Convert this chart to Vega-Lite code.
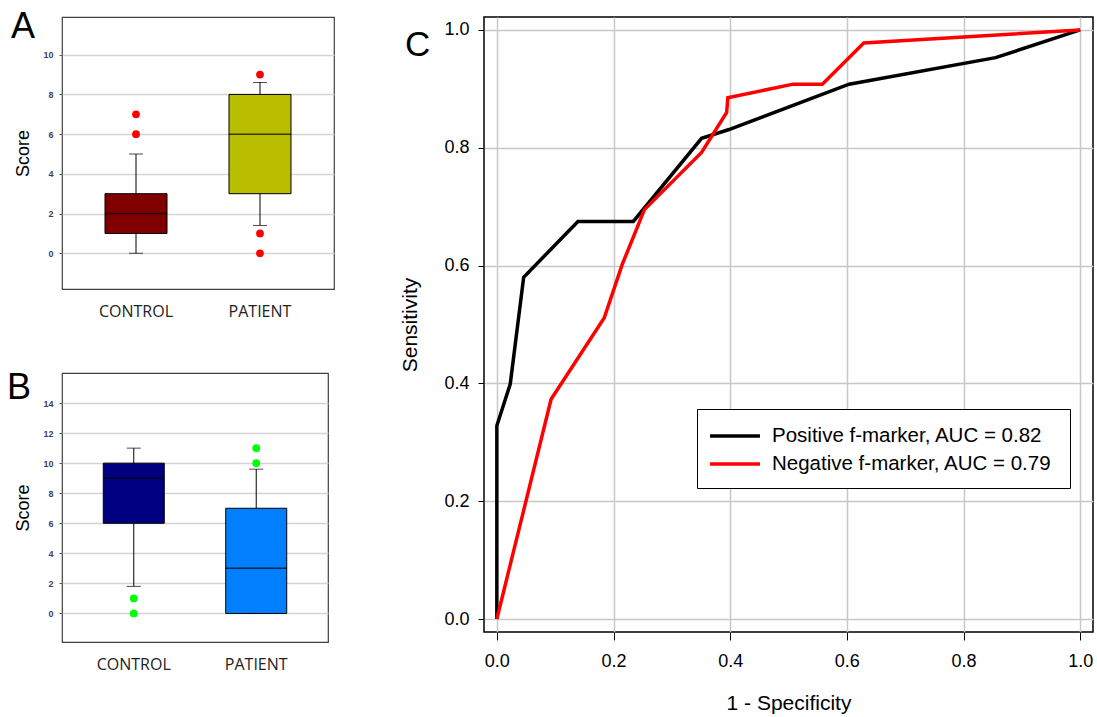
{
  "$schema": "https://vega.github.io/schema/vega-lite/v6.json",
  "background": "white",
  "padding": {"left": 6, "top": 8, "right": 0, "bottom": 0},
  "config": {
    "font": "Liberation Sans",
    "axis": {"labelOverlap": false},
    "title": {"fontWeight": "normal", "color": "black", "font": "Liberation Sans"}
  },
  "datasets": {
    "boxA": [
      {"group": "CONTROL", "q1": 1, "med": 2, "q3": 3, "lo": 0, "hi": 5},
      {"group": "PATIENT", "q1": 3, "med": 6, "q3": 8, "lo": 1.4, "hi": 8.6}
    ],
    "outA": [
      {"group": "CONTROL", "v": 6},
      {"group": "CONTROL", "v": 7},
      {"group": "PATIENT", "v": 9},
      {"group": "PATIENT", "v": 1},
      {"group": "PATIENT", "v": 0}
    ],
    "boxB": [
      {"group": "CONTROL", "q1": 6, "med": 9, "q3": 10, "lo": 1.8, "hi": 11},
      {"group": "PATIENT", "q1": 0, "med": 3, "q3": 7, "lo": 0, "hi": 9.6}
    ],
    "outB": [
      {"group": "CONTROL", "v": 1},
      {"group": "CONTROL", "v": 0},
      {"group": "PATIENT", "v": 10},
      {"group": "PATIENT", "v": 11}
    ],
    "roc": [
      {"marker": "Positive f-marker, AUC = 0.82", "ord": 1, "fpr": 0, "tpr": 0},
      {"marker": "Positive f-marker, AUC = 0.82", "ord": 2, "fpr": 0, "tpr": 0.328},
      {"marker": "Positive f-marker, AUC = 0.82", "ord": 3, "fpr": 0.023, "tpr": 0.399},
      {"marker": "Positive f-marker, AUC = 0.82", "ord": 4, "fpr": 0.046, "tpr": 0.58},
      {"marker": "Positive f-marker, AUC = 0.82", "ord": 5, "fpr": 0.139, "tpr": 0.675},
      {"marker": "Positive f-marker, AUC = 0.82", "ord": 6, "fpr": 0.234, "tpr": 0.675},
      {"marker": "Positive f-marker, AUC = 0.82", "ord": 7, "fpr": 0.351, "tpr": 0.816},
      {"marker": "Positive f-marker, AUC = 0.82", "ord": 8, "fpr": 0.398, "tpr": 0.831},
      {"marker": "Positive f-marker, AUC = 0.82", "ord": 9, "fpr": 0.604, "tpr": 0.908},
      {"marker": "Positive f-marker, AUC = 0.82", "ord": 10, "fpr": 0.855, "tpr": 0.953},
      {"marker": "Positive f-marker, AUC = 0.82", "ord": 11, "fpr": 1, "tpr": 1},
      {"marker": "Negative f-marker, AUC = 0.79", "ord": 1, "fpr": 0, "tpr": 0},
      {"marker": "Negative f-marker, AUC = 0.79", "ord": 2, "fpr": 0.093, "tpr": 0.373},
      {"marker": "Negative f-marker, AUC = 0.79", "ord": 3, "fpr": 0.184, "tpr": 0.511},
      {"marker": "Negative f-marker, AUC = 0.79", "ord": 4, "fpr": 0.215, "tpr": 0.602},
      {"marker": "Negative f-marker, AUC = 0.79", "ord": 5, "fpr": 0.253, "tpr": 0.695},
      {"marker": "Negative f-marker, AUC = 0.79", "ord": 6, "fpr": 0.351, "tpr": 0.792},
      {"marker": "Negative f-marker, AUC = 0.79", "ord": 7, "fpr": 0.394, "tpr": 0.86},
      {"marker": "Negative f-marker, AUC = 0.79", "ord": 8, "fpr": 0.396, "tpr": 0.885},
      {"marker": "Negative f-marker, AUC = 0.79", "ord": 9, "fpr": 0.508, "tpr": 0.908},
      {"marker": "Negative f-marker, AUC = 0.79", "ord": 10, "fpr": 0.558, "tpr": 0.908},
      {"marker": "Negative f-marker, AUC = 0.79", "ord": 11, "fpr": 0.629, "tpr": 0.978},
      {"marker": "Negative f-marker, AUC = 0.79", "ord": 12, "fpr": 1, "tpr": 1}
    ]
  },
  "resolve": {"scale": {"color": "independent", "x": "independent", "y": "independent"}},
  "spacing": 64,
  "hconcat": [
    {
      "spacing": 49,
      "resolve": {"scale": {"color": "independent", "x": "independent", "y": "independent"}},
      "vconcat": [
        {
          "width": 272,
          "height": 272,
          "title": {"text": "A", "anchor": "start", "frame": "group", "orient": "top", "baseline": "top", "offset": -29.4, "dx": -51, "fontSize": 36},
          "view": {"stroke": "#404040", "strokeWidth": 1.2},
          "layer": [
            {
              "data": {"name": "boxA"},
              "mark": {"type": "rule", "color": "black", "strokeWidth": 1},
              "encoding": {
                "x": {"field": "group", "type": "nominal", "sort": ["CONTROL", "PATIENT"], "title": null,
                  "scale": {"paddingInner": 0, "paddingOuter": 0.097},
                  "axis": {"labelAngle": 0, "ticks": false, "domain": false, "labelPadding": 14, "labelFontSize": 16, "labelFont": "Open Sans", "labelColor": "#222222"}},
                "y": {"field": "lo", "type": "quantitative", "title": "Score",
                  "scale": {"domain": [-1.8, 11.9], "nice": false, "zero": false},
                  "axis": {"values": [0, 2, 4, 6, 8, 10], "tickCount": 20, "format": "d", "labelOverlap": false, "grid": true, "gridColor": "#d4d4d4", "gridWidth": 1.5, "domain": false, "ticks": true, "tickSize": 3, "tickColor": "#555555", "labelFontSize": 9, "labelFontWeight": "bold", "labelColor": "#3a3f66", "labelPadding": 6, "titleFontSize": 18, "titleFontWeight": "normal", "titleColor": "black", "titlePadding": 10}},
                "y2": {"field": "hi"}
              }
            },
            {
              "data": {"name": "boxA"},
              "mark": {"type": "tick", "color": "black", "size": 14, "thickness": 1},
              "encoding": {
                "x": {"field": "group", "type": "nominal", "sort": ["CONTROL", "PATIENT"], "title": null},
                "y": {"field": "lo", "type": "quantitative", "title": "Score"}
              }
            },
            {
              "data": {"name": "boxA"},
              "mark": {"type": "tick", "color": "black", "size": 14, "thickness": 1},
              "encoding": {
                "x": {"field": "group", "type": "nominal", "sort": ["CONTROL", "PATIENT"], "title": null},
                "y": {"field": "hi", "type": "quantitative", "title": "Score"}
              }
            },
            {
              "data": {"name": "boxA"},
              "mark": {"type": "bar", "size": 62, "stroke": "black", "strokeWidth": 1},
              "encoding": {
                "x": {"field": "group", "type": "nominal", "sort": ["CONTROL", "PATIENT"], "title": null},
                "y": {"field": "q1", "type": "quantitative", "title": "Score"},
                "y2": {"field": "q3"},
                "fill": {"condition": {"test": "datum.group === 'CONTROL'", "value": "#800000"}, "value": "#b9bd00"}
              }
            },
            {
              "data": {"name": "boxA"},
              "mark": {"type": "tick", "color": "black", "size": 62, "thickness": 1.5},
              "encoding": {
                "x": {"field": "group", "type": "nominal", "sort": ["CONTROL", "PATIENT"], "title": null},
                "y": {"field": "med", "type": "quantitative", "title": "Score"}
              }
            },
            {
              "data": {"name": "outA"},
              "mark": {"type": "point", "filled": true, "size": 60, "color": "#ff0000", "opacity": 1},
              "encoding": {
                "x": {"field": "group", "type": "nominal", "sort": ["CONTROL", "PATIENT"], "title": null},
                "y": {"field": "v", "type": "quantitative", "title": "Score"}
              }
            }
          ]
        },
        {
          "width": 266,
          "height": 269,
          "title": {"text": "B", "anchor": "start", "frame": "group", "orient": "top", "baseline": "top", "offset": -34.4, "dx": -55, "fontSize": 36},
          "view": {"stroke": "#404040", "strokeWidth": 1.2},
          "layer": [
            {
              "data": {"name": "boxB"},
              "mark": {"type": "rule", "color": "black", "strokeWidth": 1},
              "encoding": {
                "x": {"field": "group", "type": "nominal", "sort": ["CONTROL", "PATIENT"], "title": null,
                  "scale": {"paddingInner": 0, "paddingOuter": 0.086},
                  "axis": {"labelAngle": 0, "ticks": false, "domain": false, "labelPadding": 14, "labelFontSize": 16, "labelFont": "Open Sans", "labelColor": "#222222"}},
                "y": {"field": "lo", "type": "quantitative", "title": "Score",
                  "scale": {"domain": [-1.9, 16], "nice": false, "zero": false},
                  "axis": {"values": [0, 2, 4, 6, 8, 10, 12, 14], "tickCount": 20, "format": "d", "labelOverlap": false, "grid": true, "gridColor": "#d4d4d4", "gridWidth": 1.5, "domain": false, "ticks": true, "tickSize": 3, "tickColor": "#555555", "labelFontSize": 9, "labelFontWeight": "bold", "labelColor": "#3a3f66", "labelPadding": 6, "titleFontSize": 18, "titleFontWeight": "normal", "titleColor": "black", "titlePadding": 10}},
                "y2": {"field": "hi"}
              }
            },
            {
              "data": {"name": "boxB"},
              "mark": {"type": "tick", "color": "black", "size": 14, "thickness": 1},
              "encoding": {
                "x": {"field": "group", "type": "nominal", "sort": ["CONTROL", "PATIENT"], "title": null},
                "y": {"field": "lo", "type": "quantitative", "title": "Score"}
              }
            },
            {
              "data": {"name": "boxB"},
              "mark": {"type": "tick", "color": "black", "size": 14, "thickness": 1},
              "encoding": {
                "x": {"field": "group", "type": "nominal", "sort": ["CONTROL", "PATIENT"], "title": null},
                "y": {"field": "hi", "type": "quantitative", "title": "Score"}
              }
            },
            {
              "data": {"name": "boxB"},
              "mark": {"type": "bar", "size": 61, "stroke": "black", "strokeWidth": 1},
              "encoding": {
                "x": {"field": "group", "type": "nominal", "sort": ["CONTROL", "PATIENT"], "title": null},
                "y": {"field": "q1", "type": "quantitative", "title": "Score"},
                "y2": {"field": "q3"},
                "fill": {"condition": {"test": "datum.group === 'CONTROL'", "value": "#000080"}, "value": "#0080ff"}
              }
            },
            {
              "data": {"name": "boxB"},
              "mark": {"type": "tick", "color": "black", "size": 61, "thickness": 1.5},
              "encoding": {
                "x": {"field": "group", "type": "nominal", "sort": ["CONTROL", "PATIENT"], "title": null},
                "y": {"field": "med", "type": "quantitative", "title": "Score"}
              }
            },
            {
              "data": {"name": "outB"},
              "mark": {"type": "point", "filled": true, "size": 60, "color": "#00ff00", "opacity": 1},
              "encoding": {
                "x": {"field": "group", "type": "nominal", "sort": ["CONTROL", "PATIENT"], "title": null},
                "y": {"field": "v", "type": "quantitative", "title": "Score"}
              }
            }
          ]
        }
      ]
    },
    {
      "width": 609,
      "height": 615,
      "title": {"text": "C", "anchor": "start", "frame": "group", "orient": "top", "baseline": "top", "offset": -46.4, "dx": -79, "fontSize": 35},
      "view": {"stroke": "black", "strokeWidth": 1.5},
      "data": {"name": "roc"},
      "mark": {"type": "line", "strokeWidth": 3.5},
      "encoding": {
        "x": {"field": "fpr", "type": "quantitative", "title": "1 - Specificity",
          "scale": {"domain": [-0.022, 1.022], "nice": false, "zero": false},
          "axis": {"values": [0, 0.2, 0.4, 0.6, 0.8, 1.0], "tickCount": 20, "format": ".1f", "grid": true, "gridColor": "#c8c8c8", "gridWidth": 1.5, "domain": false, "ticks": true, "tickSize": 8, "tickColor": "black", "tickWidth": 1, "labelFontSize": 18, "labelColor": "black", "labelPadding": 12, "labelFlush": false, "titleFontSize": 21, "titleFontWeight": "normal", "titleColor": "black", "titlePadding": 22}},
        "y": {"field": "tpr", "type": "quantitative", "title": "Sensitivity",
          "scale": {"domain": [-0.022, 1.022], "nice": false, "zero": false},
          "axis": {"values": [0, 0.2, 0.4, 0.6, 0.8, 1.0], "tickCount": 20, "format": ".1f", "grid": true, "gridColor": "#c8c8c8", "gridWidth": 1.5, "domain": false, "ticks": true, "tickSize": 6, "tickColor": "black", "tickWidth": 1, "labelFontSize": 18, "labelColor": "black", "labelPadding": 9, "labelFlush": false, "titleFontSize": 21, "titleFontWeight": "normal", "titleColor": "black", "titlePadding": 23}},
        "color": {"field": "marker", "type": "nominal",
          "scale": {"domain": ["Positive f-marker, AUC = 0.82", "Negative f-marker, AUC = 0.79"], "range": ["black", "#ff0000"]},
          "legend": {"orient": "none", "legendX": 213, "legendY": 392, "title": " ", "titleOrient": "right", "titlePadding": 5, "titleFontSize": 20, "symbolType": "M-2.08,0H2.08", "symbolSize": 576, "symbolStrokeWidth": 3.5, "symbolOffset": 11, "labelFontSize": 20.5, "labelFont": "Liberation Sans", "labelColor": "black", "labelLimit": 0, "padding": 13, "rowPadding": 3, "strokeColor": "black", "fillColor": "white", "labelOffset": 23, "cornerRadius": 0}},
        "order": {"field": "ord", "type": "quantitative"}
      }
    }
  ]
}
